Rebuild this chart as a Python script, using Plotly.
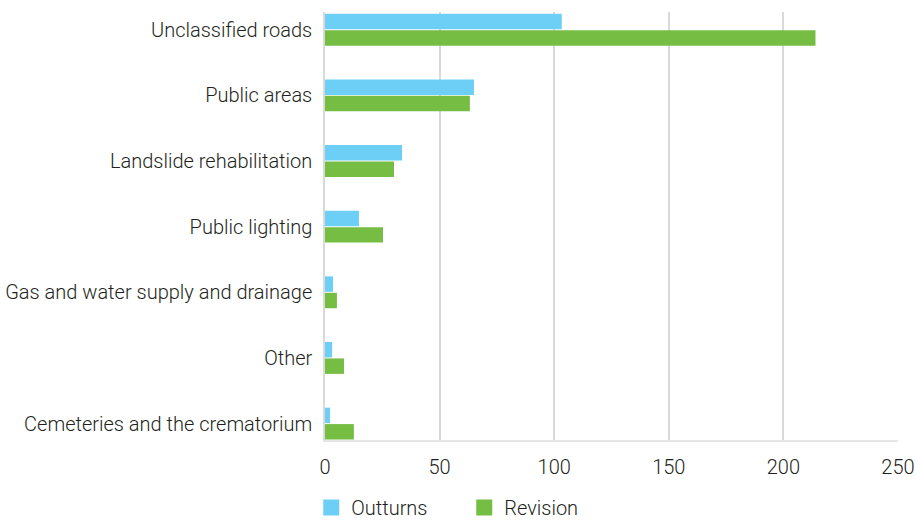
import plotly.graph_objects as go

categories = ["Unclassified roads", "Public areas", "Landslide rehabilitation",
              "Public lighting", "Gas and water supply and drainage", "Other",
              "Cemeteries and the crematorium"]
outturns = [103.3, 65.0, 33.6, 14.8, 3.5, 3.1, 2.2]
revision = [214.0, 63.2, 30.1, 25.3, 5.2, 8.3, 12.6]
tick_vals = [0, 50, 100, 150, 200, 250]
series_names = ["Outturns", "Revision"]
colors = ["#6dcff6", "#76bd43"]

FONT = "Roboto"
TXT = "#231f20"

fig = go.Figure()
for name, vals, col in zip(series_names, [outturns, revision], colors):
    fig.add_trace(go.Bar(y=categories, x=vals, orientation="h", name=name,
                         marker=dict(color=col, line=dict(width=0)),
                         showlegend=False))
    fig.add_trace(go.Scatter(x=[None], y=[None], mode="markers", name=name,
                             marker=dict(symbol="square", size=22, color=col),
                             showlegend=True))

fig.update_layout(
    width=916, height=521,
    margin=dict(l=325, r=18, t=12, b=81, autoexpand=False),
    paper_bgcolor="white", plot_bgcolor="white",
    barmode="group", bargap=0.5, bargroupgap=0.06,
    font=dict(family=FONT, size=20, color=TXT, weight=300),
    legend=dict(orientation="h", x=-0.024, xanchor="left", y=-0.158, yanchor="middle",
                font=dict(family=FONT, size=20, color=TXT, weight=300),
                itemwidth=30, entrywidth=108, tracegroupgap=0),
    xaxis=dict(range=[0, 250], tickvals=tick_vals, showgrid=True,
               gridcolor="#d9d9d9", gridwidth=1.5, zeroline=False,
               showline=True, linecolor="#e6e6e6", linewidth=1.5, automargin=False,
               ticks="", tickfont=dict(size=20, color=TXT, weight=300),
               ticklabelstandoff=8),
    yaxis=dict(type="category", categoryorder="array", categoryarray=categories,
               range=[6.25, -0.27], showgrid=False, zeroline=False,
               showline=True, linecolor="#d9d9d9", linewidth=1.5, automargin=False,
               ticks="", ticklabelstandoff=7,
               tickfont=dict(size=20, color=TXT, weight=300)),
)

fig.write_html("out.html", config={"displayModeBar": False},
               post_script="document.body.style.margin='0';"
                           "document.body.style.overflow='hidden';")
